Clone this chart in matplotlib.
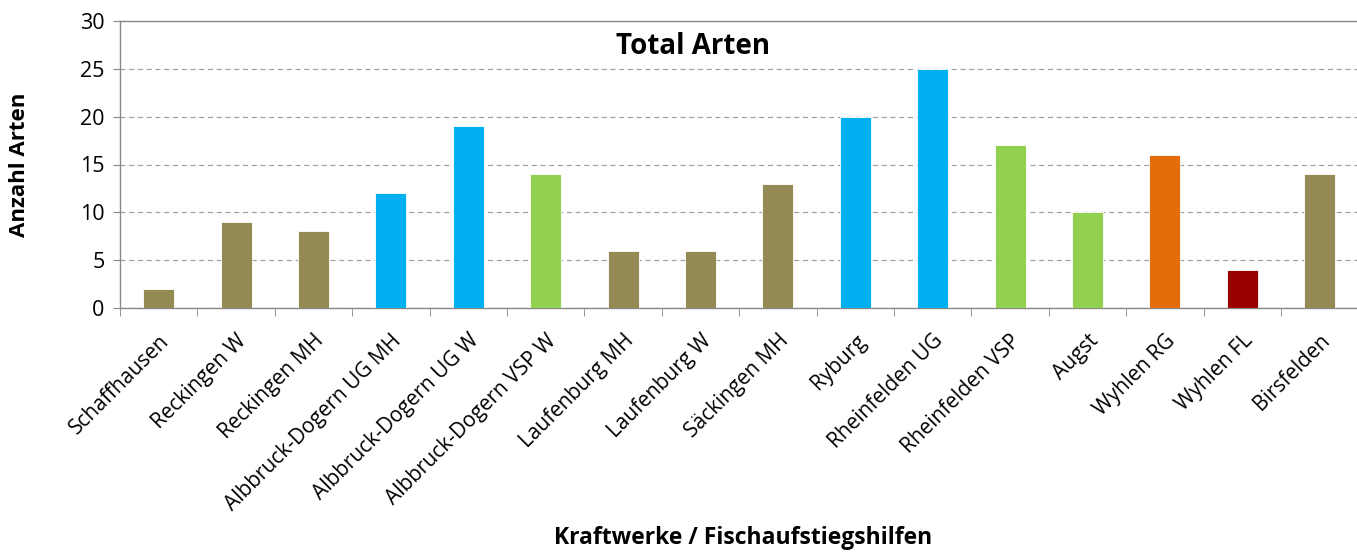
import numpy as np
import matplotlib
matplotlib.use('Agg')
import matplotlib.pyplot as plt

# Data
stations = ['Schaffhausen', 'Reckingen W', 'Reckingen MH', 'Albbruck-Dogern UG MH',
            'Albbruck-Dogern UG W', 'Albbruck-Dogern VSP W', 'Laufenburg MH',
            'Laufenburg W', 'Säckingen MH', 'Ryburg', 'Rheinfelden UG',
            'Rheinfelden VSP', 'Augst', 'Wyhlen RG', 'Wyhlen FL', 'Birsfelden']
species = [2, 9, 8, 12, 19, 14, 6, 6, 13, 20, 25, 17, 10, 16, 4, 14]
groups = ['olive', 'olive', 'olive', 'blue', 'blue', 'green', 'olive', 'olive',
          'olive', 'blue', 'blue', 'green', 'green', 'orange', 'red', 'olive']

palette = {'olive': '#948A54', 'blue': '#00B0F0', 'green': '#92D050',
           'orange': '#E46C0A', 'red': '#990000'}

plt.rcParams['font.family'] = ['Open Sans', 'DejaVu Sans']

fig = plt.figure(figsize=(13.57, 5.52), dpi=100)
ax = fig.add_axes([120 / 1357, 1 - 308 / 552, 1 - 120 / 1357 + 0.001, 287 / 552])

x = np.arange(len(stations))
ax.bar(x, species, width=0.4, color=[palette[g] for g in groups],
       edgecolor='white', linewidth=0.6, zorder=3)

ax.set_xlim(-0.5, len(stations) - 0.5)
ax.set_ylim(0, 30)
ax.set_yticks(range(0, 31, 5))
ax.yaxis.grid(True, linestyle=(0, (4, 3)), color='#A0A0A0', linewidth=0.9, zorder=0)

ax.set_xticks(x)
ax.set_xticklabels(stations, rotation=45, ha='right', rotation_mode='anchor', fontsize=15)
ax.set_xticks(np.arange(-0.5, len(stations), 1), minor=True)
ax.tick_params(axis='x', which='major', length=0, pad=16)
ax.tick_params(axis='x', which='minor', length=6, color='#888888', direction='out')
ax.tick_params(axis='y', length=5, color='#888888', labelsize=15.5, pad=6)

for side in ['left', 'bottom', 'top']:
    ax.spines[side].set_color('#888888')
    ax.spines[side].set_linewidth(1.0)
ax.spines['right'].set_visible(False)

ax.text(0.463, 0.91, 'Total Arten', transform=ax.transAxes, ha='center', va='center',
        fontsize=20, fontweight='bold')
ax.set_ylabel('Anzahl Arten', fontsize=16, fontweight='bold')
ax.yaxis.set_label_coords(-90 / 1237, 0.5)
fig.text(743 / 1357, 1 - 538 / 552, 'Kraftwerke / Fischaufstiegshilfen', ha='center',
         va='center', fontsize=16.5, fontweight='bold')

fig.savefig('out.png', dpi=100)
